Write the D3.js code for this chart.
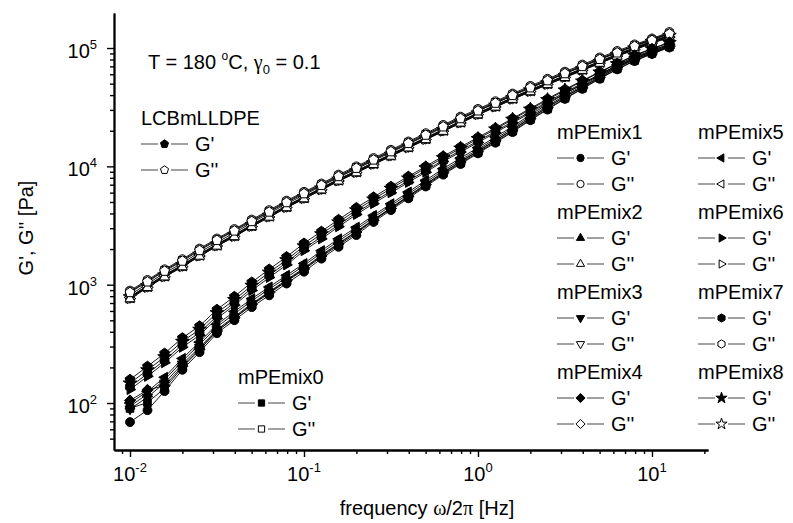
<!DOCTYPE html>
<html>
<head>
<meta charset="utf-8">
<script src="https://cdn.jsdelivr.net/npm/d3@7"></script>
<style>
  body { margin: 0; background: #fff; }
  svg { display: block; font-family: "Liberation Sans", Arial, sans-serif; }
  .greek { font-family: "Liberation Serif", "DejaVu Serif", serif; }
</style>
</head>
<body>
<svg id="chart" width="793" height="523"></svg>
<script>
// frequency omega/2pi [Hz], 10 points per decade
var freq = [0.01,0.0126,0.0158,0.02,0.0251,0.0316,0.0398,0.0501,0.0631,0.0794,0.1,0.126,0.158,0.2,0.251,0.316,0.398,0.501,0.631,0.794,1,1.26,1.58,2,2.51,3.16,3.98,5.01,6.31,7.94,10,12.6];

// storage modulus G' [Pa]
var gp_LCB  = [158,204,263,355,447,617,794,1050,1350,1720,2240,2820,3550,4470,5500,6760,8220,10000,12200,14600,17600,21100,25400,30900,37200,44700,53100,63100,74100,87100,98900,112000];
var gp_mix0 = [90,101,133,200,282,405,522,672,846,1065,1340,1720,2160,2720,3490,4380,5500,6900,8680,10650,13100,16100,19800,24900,30600,37600,45700,55500,66700,78300,89900,102000];
var gp_mix1 = [69,87,126,191,269,389,501,646,813,1023,1288,1660,2090,2630,3390,4270,5370,6760,8510,10470,12880,15850,19500,24550,30200,37150,45190,54950,66070,77620,89130,101200];
var gp_mix2 = [94,119,157,226,312,440,567,730,917,1150,1450,1860,2340,2940,3700,4650,5840,7330,9220,11300,13900,17100,21000,26400,32400,39800,47900,58100,69800,82000,92800,105000];
var gp_mix3 = [89,112,148,214,295,417,537,692,871,1100,1380,1780,2240,2820,3550,4470,5620,7080,8910,11000,13500,16600,20400,25700,31600,38900,46800,56900,68400,80400,91200,103500];
var gp_mix4 = [105,129,140,205,285,405,525,680,860,1080,1360,1750,2210,2790,3510,4430,5580,7030,8860,10900,13400,16500,20300,25500,31400,38700,46600,56700,68200,80200,91000,103000];
var gp_mix5 = [100,125,165,238,327,461,593,762,957,1200,1510,1940,2440,3060,3850,4830,6070,7620,9570,11750,14400,17700,21700,27300,33500,41100,49400,59900,71900,84300,95400,108000];
var gp_mix6 = [130,168,219,296,374,518,671,893,1150,1470,1940,2440,3090,3920,4840,5980,7320,8920,11000,13200,15950,19200,23300,28300,34400,41300,49400,58800,69500,81800,93400,106000];
var gp_mix7 = [137,177,230,311,393,543,703,935,1200,1540,2020,2540,3210,4070,5010,6190,7560,9200,11300,13600,16400,19700,23900,29000,35200,42200,50400,59900,70800,83200,94900,107500];
var gp_mix8 = [147,190,245,331,418,578,745,985,1270,1620,2120,2680,3380,4270,5270,6500,7930,9680,11800,14200,17100,20600,24900,30300,36500,44000,52400,62400,73400,86300,98100,111000];

// loss modulus G'' [Pa]
var gpp_LCB  = [860,1058,1302,1584,1947,2369,2848,3424,4117,4949,5882,6910,8213,9650,11340,13320,15650,18380,21610,25380,29480,34240,39770,46180,53030,60890,69900,80270,91100,103400,116000,131700];
var gpp_mix0 = [873,1074,1322,1608,1978,2406,2892,3477,4181,5026,5973,7018,8341,9800,11520,13520,15900,18670,21940,25770,29940,34770,40390,46900,53850,61840,70990,81520,92510,105100,117800,133800];
var gpp_mix1 = [891,1096,1349,1641,2018,2455,2951,3548,4266,5129,6095,7161,8511,10000,11750,13800,16220,19050,22390,26300,30550,35480,41210,47860,54950,63100,72440,83180,94400,107200,120200,136500];
var gpp_mix2 = [759,944,1161,1413,1738,2113,2541,3090,3715,4467,5309,6310,7499,8810,10350,12160,14290,16790,19720,23170,27230,31620,36730,42660,48980,56230,64570,74130,85110,96600,109600,123000];
var gpp_mix3 = [791,984,1210,1473,1811,2202,2648,3220,3872,4655,5533,6576,7816,9182,10790,12670,14890,17500,20550,24140,28380,32950,38280,44460,51050,58600,67300,77260,88700,100600,114300,128200];
var gpp_mix4 = [820,1020,1254,1526,1877,2282,2744,3337,4012,4824,5734,6815,8099,9515,11180,13130,15430,18130,21300,25020,29410,34150,39670,46070,52900,60730,69740,80060,91920,104300,118400,132800];
var gpp_mix5 = [779,969,1191,1450,1783,2168,2607,3170,3811,4583,5447,6474,7694,9039,10620,12470,14660,17220,20240,23770,27940,32440,37690,43770,50260,57690,66250,76060,87320,99090,112500,126200];
var gpp_mix6 = [762,948,1166,1420,1746,2123,2554,3105,3733,4489,5336,6341,7536,8854,10400,12220,14360,16870,19820,23290,27370,31780,36910,42870,49220,56510,64890,74500,85540,97080,110100,123600];
var gpp_mix7 = [770,958,1178,1434,1764,2145,2579,3136,3771,4534,5389,6405,7611,8942,10510,12340,14500,17040,20020,23520,27640,32090,37280,43300,49710,57070,65540,75240,86390,98050,111200,124800];
var gpp_mix8 = [786,977,1202,1462,1799,2187,2630,3198,3845,4623,5495,6531,7761,9118,10710,12590,14790,17380,20410,23980,28180,32730,38020,44150,50690,58200,66830,76720,88090,99980,113400,127300];

var sampleNames = ["LCBmLLDPE","mPEmix0","mPEmix1","mPEmix2","mPEmix3","mPEmix4","mPEmix5","mPEmix6","mPEmix7","mPEmix8"];
var xMajor = [1e-2,1e-1,1e0,1e1];
var xExponents = ["-2","-1","0","1"];
var yMajor = [1e2,1e3,1e4,1e5];
var yExponents = ["2","3","4","5"];

var series = [
  {name: sampleNames[0], sym: "pentagon", gp: gp_LCB,  gpp: gpp_LCB},
  {name: sampleNames[1], sym: "square",   gp: gp_mix0, gpp: gpp_mix0},
  {name: sampleNames[2], sym: "circle",   gp: gp_mix1, gpp: gpp_mix1},
  {name: sampleNames[3], sym: "triUp",    gp: gp_mix2, gpp: gpp_mix2},
  {name: sampleNames[4], sym: "triDown",  gp: gp_mix3, gpp: gpp_mix3},
  {name: sampleNames[5], sym: "diamond",  gp: gp_mix4, gpp: gpp_mix4},
  {name: sampleNames[6], sym: "triLeft",  gp: gp_mix5, gpp: gpp_mix5},
  {name: sampleNames[7], sym: "triRight", gp: gp_mix6, gpp: gpp_mix6},
  {name: sampleNames[8], sym: "hexagon",  gp: gp_mix7, gpp: gpp_mix7},
  {name: sampleNames[9], sym: "star",     gp: gp_mix8, gpp: gpp_mix8}
];

function polygon(n, r, rot) {
  var pts = d3.range(n).map(function(i) {
    var a = rot + i * 2 * Math.PI / n;
    return [(r * Math.sin(a)).toFixed(2), (-r * Math.cos(a)).toFixed(2)];
  });
  return "M" + pts.join("L") + "Z";
}

function markerPath(sym, k) {
  switch (sym) {
    case "pentagon": return polygon(5, 5.2 * k, 0);
    case "square":   return polygon(4, 5.4 * k, Math.PI / 4);
    case "circle":   return d3.symbol(d3.symbolCircle, 62 * k * k)();
    case "triUp":    return polygon(3, 5.8 * k, 0);
    case "triDown":  return polygon(3, 5.8 * k, Math.PI);
    case "diamond":  return polygon(4, 5.6 * k, 0);
    case "triLeft":  return polygon(3, 5.8 * k, -Math.PI / 2);
    case "triRight": return polygon(3, 5.8 * k, Math.PI / 2);
    case "hexagon":  return polygon(6, 5 * k, 0);
    case "star":     return d3.symbol(d3.symbolStar, 58 * k * k)();
  }
}

var svg = d3.select("#chart");

var x = d3.scaleLog()
  .domain([Math.pow(10, -2.092), Math.pow(10, 1.322)])
  .range([114, 708]);

var y = d3.scaleLog()
  .domain([Math.pow(10, 1.603), Math.pow(10, 5.296)])
  .range([450, 13]);

function minorTicks(scale) {
  var d = scale.domain(), out = [];
  for (var e = Math.floor(Math.log10(d[0])); e <= Math.ceil(Math.log10(d[1])); e++) {
    for (var m = 2; m <= 9; m++) {
      var v = m * Math.pow(10, e);
      if (v >= d[0] && v <= d[1]) out.push(v);
    }
  }
  return out;
}

// Axes (only left and bottom)
svg.append("g")
    .attr("transform", "translate(0,450)")
    .call(d3.axisBottom(x).tickValues(minorTicks(x)).tickSize(4).tickSizeOuter(0).tickFormat(""));
svg.append("g")
    .attr("transform", "translate(0,450)")
    .call(d3.axisBottom(x).tickValues(xMajor).tickSize(7).tickSizeOuter(0).tickFormat(""));
svg.append("g")
    .attr("transform", "translate(114,0)")
    .call(d3.axisLeft(y).tickValues(minorTicks(y)).tickSize(4).tickSizeOuter(0).tickFormat(""));
svg.append("g")
    .attr("transform", "translate(114,0)")
    .call(d3.axisLeft(y).tickValues(yMajor).tickSize(7).tickSizeOuter(0).tickFormat(""));

svg.selectAll(".domain").attr("stroke", "#000").attr("stroke-width", 1.8);
svg.selectAll(".tick line").attr("stroke", "#000").attr("stroke-width", 1.4);

// Tick labels with exponents
xMajor.forEach(function(v, i) {
  var t = svg.append("text")
    .attr("x", x(v))
    .attr("y", 481)
    .attr("text-anchor", "middle")
    .attr("font-size", 20);
  t.append("tspan").text("10");
  t.append("tspan").attr("font-size", 13).attr("dy", -9).text(xExponents[i]);
});

yMajor.forEach(function(v, i) {
  var t = svg.append("text")
    .attr("x", 97)
    .attr("y", y(v) + 10)
    .attr("text-anchor", "end")
    .attr("font-size", 20);
  t.append("tspan").text("10");
  t.append("tspan").attr("font-size", 13).attr("dy", -9).text(yExponents[i]);
});

// Axis titles
var xTitle = svg.append("text")
    .attr("x", 427)
    .attr("y", 515)
    .attr("text-anchor", "middle")
    .attr("font-size", 20);
xTitle.append("tspan").text("frequency ");
xTitle.append("tspan").attr("class", "greek").text("\u03c9");
xTitle.append("tspan").text("/2");
xTitle.append("tspan").attr("class", "greek").text("\u03c0");
xTitle.append("tspan").text(" [Hz]");

svg.append("text")
    .attr("transform", "translate(33,228) rotate(-90)")
    .attr("text-anchor", "middle")
    .attr("font-size", 20)
    .text("G', G'' [Pa]");

// Condition label
var cond = svg.append("text")
    .attr("x", 148)
    .attr("y", 69)
    .attr("font-size", 20);
cond.append("tspan").text("T = 180 ");
cond.append("tspan").attr("font-size", 12).attr("dy", -9).text("o");
cond.append("tspan").attr("dy", 9).text("C, ");
cond.append("tspan").attr("class", "greek").text("\u03b3");
cond.append("tspan").attr("font-size", 13).attr("dy", 5).text("0");
cond.append("tspan").attr("dy", -5).text(" = 0.1");

// Data
var line = d3.line()
  .x(function(d) { return x(d[0]); })
  .y(function(d) { return y(d[1]); });

var plot = svg.append("g").attr("class", "plot");

function pairs(vals) {
  return freq.map(function(f, i) { return [f, vals[i]]; });
}

var drawOrder = series.slice().reverse();

drawOrder.forEach(function(s) {
  [s.gpp, s.gp].forEach(function(vals) {
    plot.append("path")
      .attr("d", line(pairs(vals)))
      .attr("fill", "none")
      .attr("stroke", "#000")
      .attr("stroke-width", 0.9);
  });
});

drawOrder.forEach(function(s) {
  [[s.gpp, "#fff"], [s.gp, "#000"]].forEach(function(m) {
    plot.append("g").selectAll("path")
      .data(pairs(m[0]))
      .join("path")
        .attr("transform", function(d) { return "translate(" + x(d[0]) + "," + y(d[1]) + ")"; })
        .attr("d", markerPath(s.sym, 1))
        .attr("fill", m[1])
        .attr("stroke", "#000")
        .attr("stroke-width", 1);
  });
});

// Legend blocks
function legendBlock(s, x0, yc) {
  var g = svg.append("g").attr("class", "legend");
  g.append("text")
    .attr("x", x0)
    .attr("y", yc + 7)
    .attr("font-size", 20)
    .text(s.name);
  [["G'", "#000"], ["G''", "#fff"]].forEach(function(row, i) {
    var ry = yc + 26 * (i + 1);
    g.append("line").attr("x1", x0).attr("x2", x0 + 17).attr("y1", ry).attr("y2", ry)
      .attr("stroke", "#444").attr("stroke-width", 1);
    g.append("line").attr("x1", x0 + 30).attr("x2", x0 + 47).attr("y1", ry).attr("y2", ry)
      .attr("stroke", "#444").attr("stroke-width", 1);
    g.append("path")
      .attr("transform", "translate(" + (x0 + 23.5) + "," + ry + ")")
      .attr("d", markerPath(s.sym, 0.82))
      .attr("fill", row[1])
      .attr("stroke", "#000")
      .attr("stroke-width", 1);
    g.append("text")
      .attr("x", x0 + 54)
      .attr("y", ry + 7)
      .attr("font-size", 20)
      .text(row[0]);
  });
}

legendBlock(series[0], 141, 118);
legendBlock(series[1], 238, 377);
legendBlock(series[2], 557, 132);
legendBlock(series[3], 557, 212);
legendBlock(series[4], 557, 292);
legendBlock(series[5], 557, 372);
legendBlock(series[6], 698, 132);
legendBlock(series[7], 698, 212);
legendBlock(series[8], 698, 292);
legendBlock(series[9], 698, 372);
</script>
</body>
</html>
